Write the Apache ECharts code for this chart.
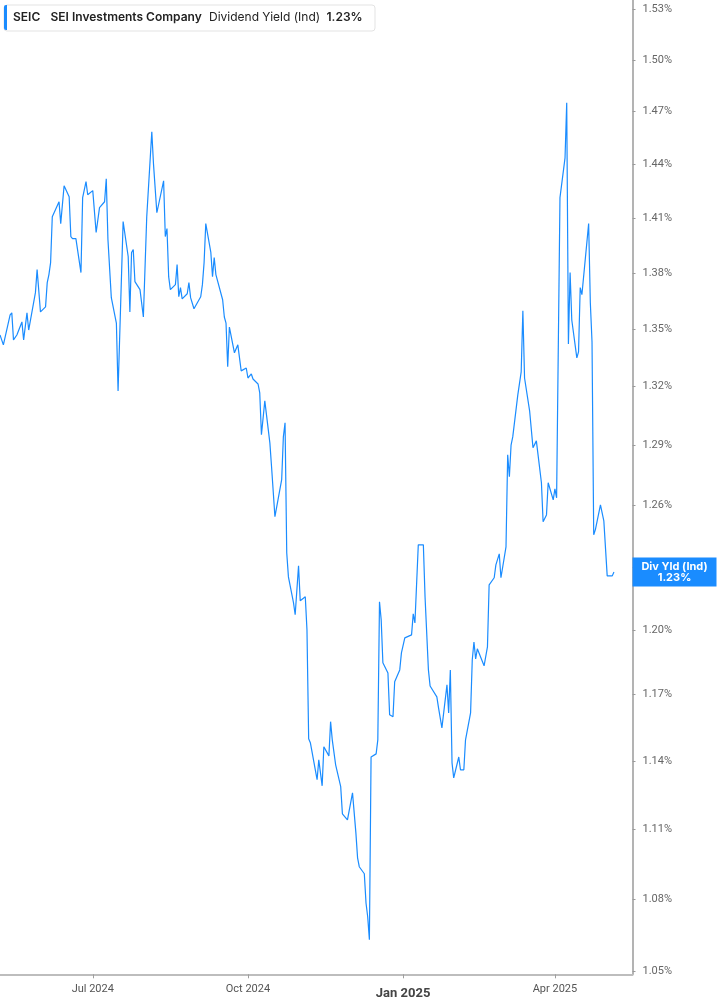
<!DOCTYPE html>
<html>
<head>
<meta charset="utf-8">
<script src="https://cdn.jsdelivr.net/npm/echarts@6/dist/echarts.min.js"></script>
<style>
  html, body { margin: 0; padding: 0; background: #fff; }
  #yield-chart { width: 717px; height: 1005px; }
</style>
</head>
<body>
<div id="yield-chart"></div>
<script>
// ------------------------------
// SEIC dividend yield (log scale)
// ------------------------------
var dates = [
    '2024-05-07', '2024-05-09', '2024-05-10', '2024-05-13', '2024-05-14', '2024-05-15', '2024-05-17', '2024-05-20',
    '2024-05-21', '2024-05-23', '2024-05-24', '2024-05-28', '2024-05-29', '2024-05-31', '2024-06-03', '2024-06-04',
    '2024-06-05', '2024-06-06', '2024-06-07', '2024-06-11', '2024-06-12', '2024-06-14', '2024-06-17', '2024-06-18',
    '2024-06-19', '2024-06-21', '2024-06-24', '2024-06-25', '2024-06-27', '2024-06-28', '2024-07-01', '2024-07-03',
    '2024-07-05', '2024-07-08', '2024-07-09', '2024-07-10', '2024-07-12', '2024-07-15', '2024-07-16', '2024-07-19',
    '2024-07-22', '2024-07-23', '2024-07-24', '2024-07-25', '2024-07-26', '2024-07-29', '2024-07-31', '2024-08-02',
    '2024-08-05', '2024-08-06', '2024-08-07', '2024-08-08', '2024-08-12', '2024-08-13', '2024-08-14', '2024-08-15',
    '2024-08-16', '2024-08-19', '2024-08-20', '2024-08-21', '2024-08-22', '2024-08-23', '2024-08-26', '2024-08-27',
    '2024-08-28', '2024-08-30', '2024-09-03', '2024-09-04', '2024-09-05', '2024-09-06', '2024-09-09', '2024-09-10',
    '2024-09-11', '2024-09-12', '2024-09-16', '2024-09-17', '2024-09-18', '2024-09-19', '2024-09-20', '2024-09-23',
    '2024-09-24', '2024-09-25', '2024-09-27', '2024-09-30', '2024-10-01', '2024-10-03', '2024-10-04', '2024-10-07',
    '2024-10-08', '2024-10-09', '2024-10-11', '2024-10-14', '2024-10-15', '2024-10-17', '2024-10-18', '2024-10-21',
    '2024-10-22', '2024-10-23', '2024-10-24', '2024-10-25', '2024-10-28', '2024-10-29', '2024-10-30', '2024-10-31',
    '2024-11-01', '2024-11-04', '2024-11-05', '2024-11-06', '2024-11-07', '2024-11-08', '2024-11-11', '2024-11-12',
    '2024-11-14', '2024-11-15', '2024-11-18', '2024-11-19', '2024-11-20', '2024-11-22', '2024-11-25', '2024-11-26',
    '2024-11-27', '2024-11-29', '2024-12-02', '2024-12-04', '2024-12-05', '2024-12-06', '2024-12-09', '2024-12-10',
    '2024-12-11', '2024-12-12', '2024-12-13', '2024-12-16', '2024-12-17', '2024-12-18', '2024-12-19', '2024-12-20',
    '2024-12-23', '2024-12-24', '2024-12-26', '2024-12-27', '2024-12-30', '2024-12-31', '2025-01-02', '2025-01-06',
    '2025-01-07', '2025-01-08', '2025-01-10', '2025-01-13', '2025-01-14', '2025-01-16', '2025-01-17', '2025-01-21',
    '2025-01-22', '2025-01-23', '2025-01-24', '2025-01-27', '2025-01-28', '2025-01-29', '2025-01-30', '2025-01-31',
    '2025-02-03', '2025-02-04', '2025-02-06', '2025-02-07', '2025-02-10', '2025-02-11', '2025-02-12', '2025-02-13',
    '2025-02-14', '2025-02-18', '2025-02-19', '2025-02-20', '2025-02-21', '2025-02-24', '2025-02-25', '2025-02-27',
    '2025-02-28', '2025-03-03', '2025-03-04', '2025-03-05', '2025-03-06', '2025-03-07', '2025-03-10', '2025-03-12',
    '2025-03-13', '2025-03-14', '2025-03-17', '2025-03-18', '2025-03-19', '2025-03-21', '2025-03-24', '2025-03-25',
    '2025-03-26', '2025-03-27', '2025-03-28', '2025-03-31', '2025-04-01', '2025-04-02', '2025-04-04', '2025-04-07',
    '2025-04-08', '2025-04-09', '2025-04-10', '2025-04-11', '2025-04-14', '2025-04-15', '2025-04-16', '2025-04-17',
    '2025-04-21', '2025-04-22', '2025-04-23', '2025-04-24', '2025-04-25', '2025-04-28', '2025-04-30', '2025-05-01',
    '2025-05-02', '2025-05-05', '2025-05-06'
];

// dividend yield, percent
var yields = [
    1.3469, 1.3417, 1.3427, 1.3575, 1.3586, 1.3443, 1.3469, 1.3538,
    1.3443, 1.3586, 1.3495, 1.3694, 1.3818, 1.3591, 1.3618, 1.3748,
    1.3791, 1.3856, 1.4107, 1.4190, 1.4069, 1.4279, 1.4218, 1.3998,
    1.3987, 1.3987, 1.3802, 1.4213, 1.4302, 1.4229, 1.4252, 1.4020,
    1.4157, 1.4190, 1.4318, 1.3982, 1.3667, 1.3532, 1.3177, 1.4080,
    1.3889, 1.3591, 1.3911, 1.3927, 1.3753, 1.3710, 1.3564, 1.4107,
    1.4584, 1.4402, 1.4402, 1.4129, 1.4307, 1.3998, 1.4042, 1.3780,
    1.3710, 1.3737, 1.3845, 1.3672, 1.3721, 1.3661, 1.3688, 1.3748,
    1.3667, 1.3608, 1.3672, 1.3737, 1.3856, 1.4069, 1.3911, 1.3780,
    1.3884, 1.3791, 1.3656, 1.3564, 1.3532, 1.3302, 1.3511, 1.3375,
    1.3375, 1.3417, 1.3281, 1.3296, 1.3244, 1.3265, 1.3239, 1.3213,
    1.3167, 1.2953, 1.3126, 1.2912, 1.2792, 1.2544, 1.2544, 1.2727,
    1.2942, 1.3014, 1.2368, 1.2252, 1.2129, 1.2072, 1.2067, 1.2305,
    1.2138, 1.2157, 1.2000, 1.1500, 1.1482, 1.1487, 1.1317, 1.1405,
    1.1290, 1.1464, 1.1423, 1.1577, 1.1495, 1.1383, 1.1286, 1.1167,
    1.1163, 1.1140, 1.1259, 1.1084, 1.0976, 1.0938, 1.0908, 1.0784,
    1.0726, 1.0630, 1.1418, 1.1432, 1.1495, 1.2133, 1.2048, 1.1847,
    1.1800, 1.1608, 1.1599, 1.1759, 1.1814, 1.1893, 1.1963, 1.1977,
    1.2076, 1.2033, 1.2407, 1.2407, 1.2157, 1.1814, 1.1740, 1.1690,
    1.1640, 1.1635, 1.1549, 1.1745, 1.1617, 1.1814, 1.1392, 1.1325,
    1.1418, 1.1361, 1.1361, 1.1495, 1.1617, 1.1861, 1.1944, 1.1865,
    1.1912, 1.1833, 1.1828, 1.1921, 1.2214, 1.2248, 1.2310, 1.2363,
    1.2248, 1.2397, 1.2852, 1.2742, 1.2900, 1.2942, 1.3157, 1.3276,
    1.3597, 1.3244, 1.3075, 1.3075, 1.2887, 1.2922, 1.2712, 1.2519,
    1.2524, 1.2553, 1.2712, 1.2627, 1.2682, 1.2637, 1.4213, 1.4436,
    1.4751, 1.3422, 1.3802, 1.3548, 1.3349, 1.3380, 1.3721, 1.3683,
    1.4069, 1.3640, 1.3432, 1.2456, 1.2481, 1.2602, 1.2524, 1.2524,
    1.2257, 1.2257, 1.2276
];

var yTicks = [1.05, 1.08, 1.11, 1.14, 1.17, 1.20, 1.23, 1.26, 1.29, 1.32, 1.35, 1.38, 1.41, 1.44, 1.47, 1.50, 1.53];
var xTicks = ['2024-07-01', '2024-10-01', '2025-01-01', '2025-04-01'];
var xTickLabels = ['Jul 2024', 'Oct 2024', 'Jan 2025', 'Apr 2025'];

var blue = '#1a8cff';
var lastYield = yields[yields.length - 1];

function toTime(d) {
    var p = d.split('-');
    return new Date(+p[0], +p[1] - 1, +p[2]).getTime();
}
var xTickTimes = xTicks.map(toTime);

var yieldChart = echarts.init(document.getElementById('yield-chart'));

var option = {
    animation: false,
    backgroundColor: '#fff',

    // Setup grid
    grid: {
        left: 0,
        right: 84.5,
        top: 0,
        bottom: 30.7,
        containLabel: false,
        outerBoundsMode: 'none'
    },

    // Header badge
    graphic: [
        {
            type: 'rect', left: 3.5, top: 4.5, z: 10,
            shape: { width: 371, height: 26, r: 3 },
            style: { fill: '#fff', stroke: '#e3e3e3', lineWidth: 1 }
        },
        {
            type: 'rect', left: 4, top: 5, z: 11,
            shape: { width: 3, height: 25, r: [2, 0, 0, 2] },
            style: { fill: blue }
        },
        { type: 'text', left: 13, top: 11, z: 11, style: { text: 'SEIC', font: '600 12px Inter', fill: '#222' } },
        { type: 'text', left: 50.5, top: 11, z: 11, style: { text: 'SEI Investments Company', font: '600 12px Inter', fill: '#222' } },
        { type: 'text', left: 209, top: 11, z: 11, style: { text: 'Dividend Yield (Ind)', font: '400 12px Inter', fill: '#222' } },
        { type: 'text', left: 326.5, top: 11, z: 11, style: { text: lastYield.toFixed(2) + '%', font: '600 12px Inter', fill: '#222' } }
    ],

    // Horizontal axis (timestamps)
    xAxis: {
        type: 'value',
        min: toTime('2024-05-07'),
        max: toTime('2025-05-17'),
        axisLine: { show: true, onZero: false, lineStyle: { color: '#bdbdbd', width: 2 } },
        axisTick: {
            show: true,
            customValues: xTickTimes,
            length: 4,
            lineStyle: { color: '#9e9e9e' }
        },
        axisLabel: {
            customValues: xTickTimes,
            margin: 9,
            color: '#555',
            fontFamily: 'Roboto',
            fontSize: 11,
            formatter: function (val) {
                var i = xTickTimes.indexOf(+val);
                if (i < 0) return '';
                if (xTickLabels[i].indexOf('Jan') === 0) return '{b|' + xTickLabels[i] + '}';
                return xTickLabels[i];
            },
            rich: {
                b: { fontFamily: 'Roboto', fontSize: 13, fontWeight: 'bold', color: '#444', padding: [4, 0, 0, 0] }
            }
        },
        splitLine: { show: false }
    },

    // Vertical axis (log)
    yAxis: {
        type: 'log',
        logBase: Math.E,
        position: 'right',
        min: 1.0487,
        max: 1.5356,
        axisLine: { show: true, lineStyle: { color: '#9a9a9a', width: 1.5 } },
        axisTick: {
            show: true,
            customValues: yTicks,
            length: 3,
            lineStyle: { color: '#9a9a9a' }
        },
        axisLabel: {
            customValues: yTicks,
            margin: 10,
            color: '#666',
            fontFamily: 'Roboto',
            fontSize: 11,
            formatter: function (val) { return Number(val).toFixed(2) + '%'; }
        },
        splitLine: { show: false }
    },

    // Add series
    series: [{
        name: 'Div Yld (Ind)',
        type: 'line',
        showSymbol: false,
        symbol: 'none',
        z: 3,
        lineStyle: { color: blue, width: 1.2 },
        data: dates.map(function (d, i) { return [toTime(d), yields[i]]; }),
        markLine: {
            silent: true,
            animation: false,
            precision: 6,
            symbol: ['none', 'none'],
            lineStyle: { color: 'rgba(0,0,0,0)', width: 0, type: 'solid' },
            label: {
                show: true,
                position: 'end',
                distance: 0,
                opacity: 1,
                backgroundColor: blue,
                padding: [4, 0, 3, 0],
                formatter: function () {
                    return '{a|Div Yld (Ind)}\n{a|' + lastYield.toFixed(2) + '%}';
                },
                rich: {
                    a: {
                        width: 84,
                        align: 'center',
                        color: '#fff',
                        fontFamily: 'Inter',
                        fontWeight: 'bold',
                        fontSize: 11,
                        lineHeight: 11
                    }
                }
            },
            data: [{ yAxis: lastYield }]
        }
    }]
};

// use configuration item and data specified to show chart
yieldChart.setOption(option);
</script>
</body>
</html>
